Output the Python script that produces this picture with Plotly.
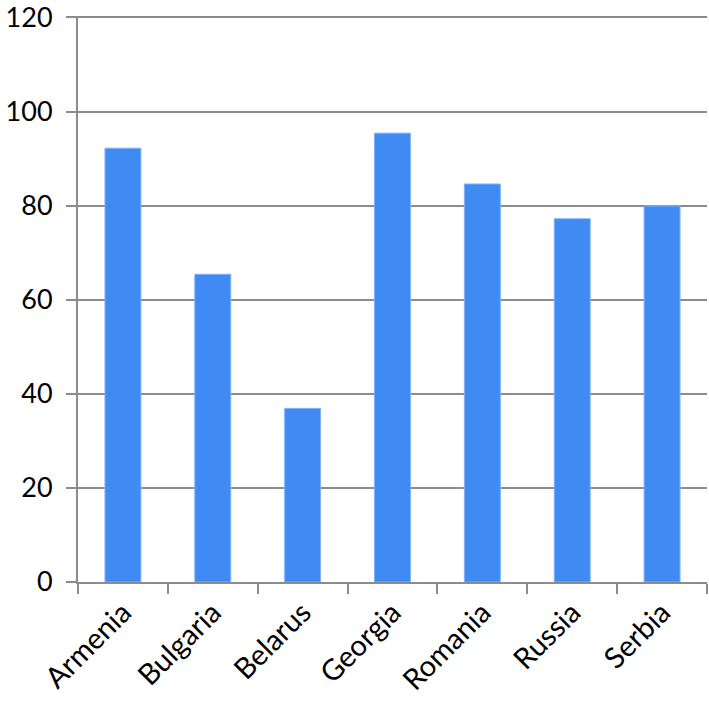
import plotly.graph_objects as go

countries = ["Armenia", "Bulgaria", "Belarus", "Georgia", "Romania", "Russia", "Serbia"]
values = [92.2, 65.4, 36.9, 95.4, 84.6, 77.2, 79.9]
y_ticks = [0, 20, 40, 60, 80, 100, 120]

fig = go.Figure(go.Bar(
    x=countries, y=values,
    marker=dict(color="#3f8af3", line=dict(color="#7fb2f7", width=1)),
    width=0.4,
))

font = "Lato, 'Open Sans', sans-serif"
fig.update_layout(
    width=709, height=703,
    margin=dict(l=78, r=2, t=16, b=121),
    plot_bgcolor="white", paper_bgcolor="white",
    showlegend=False,
    font=dict(family=font, color="black"),
)
fig.update_yaxes(
    range=[0, 120.3], tickvals=y_ticks, automargin=False,
    showgrid=True, gridcolor="#8c8c8c", gridwidth=2,
    showline=True, linecolor="#8c8c8c", linewidth=2,
    ticks="outside", ticklen=10, tickcolor="#8c8c8c", tickwidth=2,
    tickfont=dict(size=27, family=font), zeroline=False,
    ticklabelstandoff=8, ticklabeloverflow="allow",
)
fig.update_xaxes(
    automargin=False,
    showline=True, linecolor="#8c8c8c", linewidth=2,
    ticks="outside", ticklen=10, tickcolor="#8c8c8c", tickwidth=2,
    tickson="boundaries", tickangle=-45,
    tickfont=dict(size=29, family=font), showgrid=False,
)
fig.write_html("out.html", config={"displayModeBar": False},
               post_script="document.body.style.margin='0';")
